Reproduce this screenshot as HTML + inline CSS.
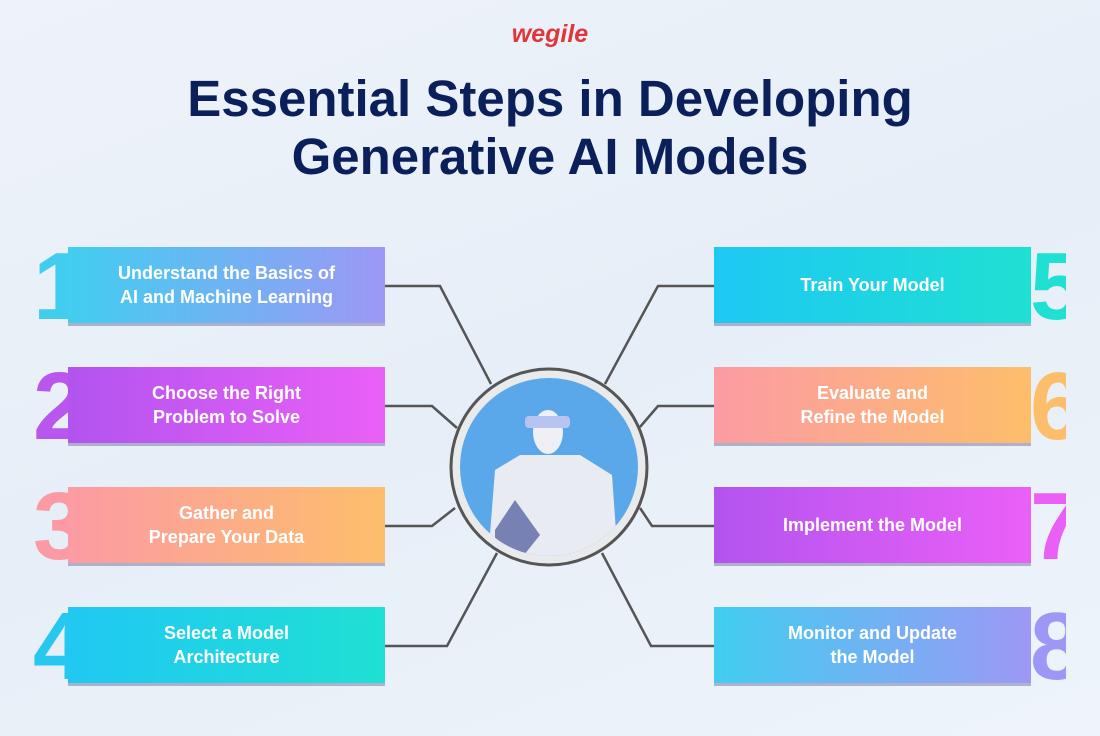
<!DOCTYPE html>
<html><head><meta charset="utf-8"><style>
body{margin:0;width:1100px;height:736px;overflow:hidden;background:linear-gradient(160deg,#eef3f9 0%,#e6eef7 50%,#eef4fa 100%);font-family:"Liberation Sans",sans-serif;position:relative}
.logo{position:absolute;top:20px;left:0;width:1100px;text-align:center;color:#e0353b;font-weight:bold;font-style:italic;font-size:25px}
.title{position:absolute;top:70px;left:0;width:1100px;text-align:center;color:#0b1f5a;font-weight:bold;font-size:51px;line-height:58px}
.box{position:absolute;width:317px;height:76px;color:#fff;font-weight:bold;font-size:18px;line-height:24px;display:flex;align-items:center;justify-content:center;text-align:center;box-shadow:0 3px 0 rgba(60,60,120,.35)}
.num{position:absolute;font-weight:bold;font-size:96px;line-height:80px;overflow:hidden;width:36px;height:80px}
</style></head><body>
<div class="logo">wegile</div>
<div class="title">Essential Steps in Developing<br>Generative AI Models</div>
<svg width="1100" height="736" style="position:absolute;left:0;top:0">
<g stroke="#555" stroke-width="2.5" fill="none">
<polyline points="385,286 440,286 491,384"/>
<polyline points="385,406 432,406 457,428"/>
<polyline points="385,526 432,526 455,508"/>
<polyline points="385,646 447,646 497,553"/>
<polyline points="714,286 658,286 605,384"/>
<polyline points="714,406 658,406 640,427"/>
<polyline points="714,526 652,526 640,508"/>
<polyline points="714,646 651,646 602,553"/>
</g>
<circle cx="549" cy="467" r="98" fill="#e9eaec" stroke="#555" stroke-width="3"/>
<clipPath id="c"><circle cx="549" cy="467" r="89"/></clipPath>
<circle cx="549" cy="467" r="89" fill="#5aa8ea"/>
<g clip-path="url(#c)">
<path d="M488 560 L495 470 L520 455 L580 455 L612 475 L618 560 Z" fill="#e8ebf2"/>
<ellipse cx="548" cy="432" rx="15" ry="22" fill="#eef0f5"/>
<rect x="525" y="416" width="45" height="12" rx="4" fill="#b7c3f0"/>
<path d="M495 530 L515 500 L540 535 L520 560 L495 560Z" fill="#2b3a8a" opacity=".6"/>
</g>
</svg>
<div class="num" style="left:33px;top:247px;color:#40cdee">1</div>
<div class="box" style="left:68px;top:247px;background:linear-gradient(90deg,#41cef0,#9d98f5)">Understand the Basics of<br>AI and Machine Learning</div>
<div class="num" style="left:33px;top:367px;color:#b856ee">2</div>
<div class="box" style="left:68px;top:367px;background:linear-gradient(90deg,#b354ef,#ea60f7)">Choose the Right<br>Problem to Solve</div>
<div class="num" style="left:33px;top:487px;color:#fb9aa2">3</div>
<div class="box" style="left:68px;top:487px;background:linear-gradient(90deg,#fc9ba4,#fdbe6b)">Gather and<br>Prepare Your Data</div>
<div class="num" style="left:33px;top:607px;color:#26c8f0">4</div>
<div class="box" style="left:68px;top:607px;background:linear-gradient(90deg,#20c8f3,#1fe0d3)">Select a Model<br>Architecture</div>
<div class="num" style="left:1030px;top:247px;color:#1fe0d3">5</div>
<div class="box" style="left:714px;top:247px;background:linear-gradient(90deg,#1ec8f3,#1fe0d3)">Train Your Model</div>
<div class="num" style="left:1030px;top:367px;color:#fdbe6b">6</div>
<div class="box" style="left:714px;top:367px;background:linear-gradient(90deg,#fc9ba4,#fdbe6b)">Evaluate and<br>Refine the Model</div>
<div class="num" style="left:1030px;top:487px;color:#ea60f7">7</div>
<div class="box" style="left:714px;top:487px;background:linear-gradient(90deg,#b354ef,#ea60f7)">Implement the Model</div>
<div class="num" style="left:1030px;top:607px;color:#9d98f5">8</div>
<div class="box" style="left:714px;top:607px;background:linear-gradient(90deg,#41cef0,#9d98f5)">Monitor and Update<br>the Model</div>
</body></html>
